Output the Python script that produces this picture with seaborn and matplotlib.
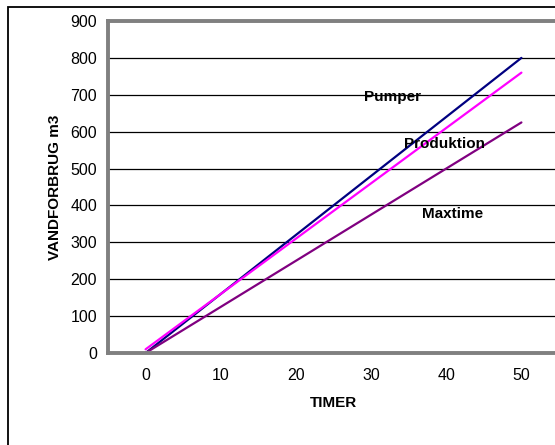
import matplotlib
matplotlib.use("Agg")
import matplotlib.pyplot as plt
import seaborn as sns
import pandas as pd
from matplotlib.patches import Rectangle

timer = [0, 10, 20, 30, 40, 50]
pumper = [0, 160, 320, 480, 640, 800]
produktion = [10, 160, 310, 460, 610, 760]
maxtime = [0, 125, 250, 375, 500, 625]
series_names = ["Pumper", "Produktion", "Maxtime"]
colors = ["#000080", "#FF00FF", "#800080"]
y_ticks = [0, 100, 200, 300, 400, 500, 600, 700, 800, 900]

df = pd.DataFrame({
    "TIMER": timer * 3,
    "value": pumper + produktion + maxtime,
    "serie": [series_names[0]] * 6 + [series_names[1]] * 6 + [series_names[2]] * 6,
})

sns.set_style("white")
plt.rcParams["font.family"] = ["Liberation Sans", "DejaVu Sans"]
plt.rcParams["text.color"] = "black"
plt.rcParams["axes.labelcolor"] = "black"
plt.rcParams["xtick.color"] = "black"
plt.rcParams["ytick.color"] = "black"

fig = plt.figure(figsize=(5.55, 4.45), dpi=100)
ax = fig.add_axes([108 / 555, 1 - 353 / 445, (559 - 108) / 555, (353 - 21) / 445])

sns.lineplot(data=df, x="TIMER", y="value", hue="serie", palette=colors,
             linewidth=1.6, legend=False, ax=ax)

ax.set_xlim(-5, 55)
ax.set_ylim(0, 900)
ax.set_yticks(y_ticks)
ax.set_yticklabels([str(v) for v in y_ticks], fontsize=11.5)
ax.set_xticks(timer)
ax.set_xticklabels([str(v) for v in timer], fontsize=11.5)
ax.set_xticks([-5, 5, 15, 25, 35, 45, 55], minor=True)
ax.tick_params(axis="x", which="major", length=0, pad=11)
ax.tick_params(axis="x", which="minor", length=4, width=1, color="black", direction="out")
ax.tick_params(axis="y", which="major", length=4, width=1, color="black", direction="out", pad=4)
ax.grid(axis="y", color="black", linewidth=0.9)
ax.set_axisbelow(True)

for side in ["left", "top", "bottom"]:
    ax.spines[side].set_color("#808080")
    ax.spines[side].set_linewidth(2.8)
ax.spines["right"].set_visible(False)

ax.set_xlabel("TIMER", fontsize=11, fontweight="bold", labelpad=9.5)
ax.set_ylabel("VANDFORBRUG m3", fontsize=11, fontweight="bold", labelpad=6)

ax.text(32.9, 694, "Pumper", fontsize=11, fontweight="bold", ha="center", va="center")
ax.text(39.8, 566, "Produktion", fontsize=11, fontweight="bold", ha="center", va="center")
ax.text(40.9, 377, "Maxtime", fontsize=11, fontweight="bold", ha="center", va="center")

fig.patches.append(Rectangle((8 / 555, -0.1), 1.2, 1 - 6.5 / 445 + 0.1,
                             transform=fig.transFigure, fill=False,
                             edgecolor="black", linewidth=1.3))

fig.savefig("out.png", dpi=100)
